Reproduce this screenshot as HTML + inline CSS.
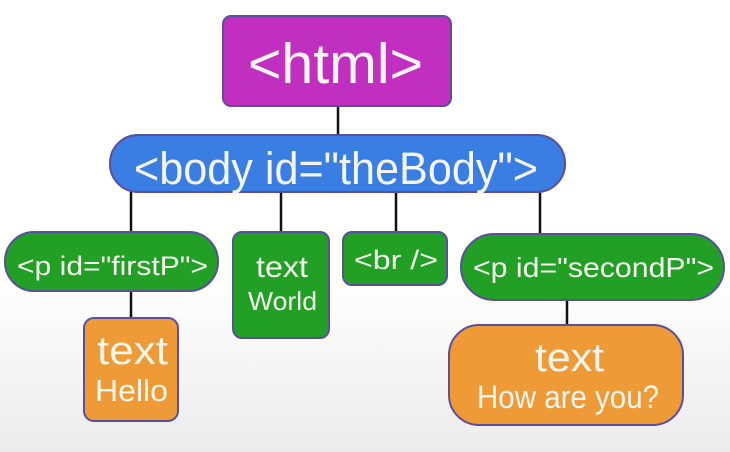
<!DOCTYPE html>
<html><head><meta charset="utf-8"><style>
html,body{margin:0;padding:0;}
body{width:730px;height:452px;overflow:hidden;background:linear-gradient(#ffffff 0px,#ffffff 280px,#ebebeb 452px);}
svg{display:block}
text{font-family:"Liberation Sans",sans-serif;fill:#f4f6ee;}
</style></head><body>
<svg width="730" height="452" viewBox="0 0 730 452">
<g stroke="#111" stroke-width="2.5">
<line x1="338" y1="106" x2="338" y2="136"/>
<line x1="131" y1="192" x2="131" y2="233"/>
<line x1="281" y1="192" x2="281" y2="233"/>
<line x1="396" y1="192" x2="396" y2="233"/>
<line x1="540" y1="192" x2="540" y2="235"/>
<line x1="131" y1="290" x2="131" y2="319"/>
<line x1="567" y1="299" x2="567" y2="326"/>
</g>
<g stroke="#5a4f9e" stroke-width="2">
<rect x="223" y="16" width="228" height="90" rx="8" fill="#c02fbf"/>
<rect x="110" y="135" width="455" height="57" rx="28" fill="#3a7ee3"/>
<rect x="5" y="232" width="213" height="59" rx="29" fill="#22a025"/>
<rect x="233" y="232" width="96" height="106" rx="9" fill="#22a025"/>
<rect x="343" y="232" width="104" height="53" rx="9" fill="#22a025"/>
<rect x="461" y="234" width="263" height="66" rx="33" fill="#22a025"/>
<rect x="84" y="318" width="94" height="103" rx="10" fill="#ee9a37"/>
<rect x="449" y="325" width="234" height="100" rx="30" fill="#ee9a37"/>
</g>
<text x="248" y="83" font-size="57" textLength="175" lengthAdjust="spacingAndGlyphs">&lt;html&gt;</text>
<text x="134" y="184" font-size="45" textLength="404" lengthAdjust="spacingAndGlyphs">&lt;body id="theBody"&gt;</text>
<text x="17" y="275" font-size="27" textLength="191" lengthAdjust="spacingAndGlyphs">&lt;p id="firstP"&gt;</text>
<text x="256" y="277" font-size="30" textLength="52" lengthAdjust="spacingAndGlyphs">text</text>
<text x="248" y="310" font-size="26" textLength="69" lengthAdjust="spacingAndGlyphs">World</text>
<text x="354" y="269" font-size="27" textLength="84" lengthAdjust="spacingAndGlyphs">&lt;br /&gt;</text>
<text x="473" y="277" font-size="28" textLength="241" lengthAdjust="spacingAndGlyphs">&lt;p id="secondP"&gt;</text>
<text x="97" y="364" font-size="40" textLength="71" lengthAdjust="spacingAndGlyphs">text</text>
<text x="95" y="401" font-size="31" textLength="73" lengthAdjust="spacingAndGlyphs">Hello</text>
<text x="535" y="371" font-size="40" textLength="69" lengthAdjust="spacingAndGlyphs">text</text>
<text x="477" y="408" font-size="32" textLength="182" lengthAdjust="spacingAndGlyphs">How are you?</text>
</svg>
</body></html>
